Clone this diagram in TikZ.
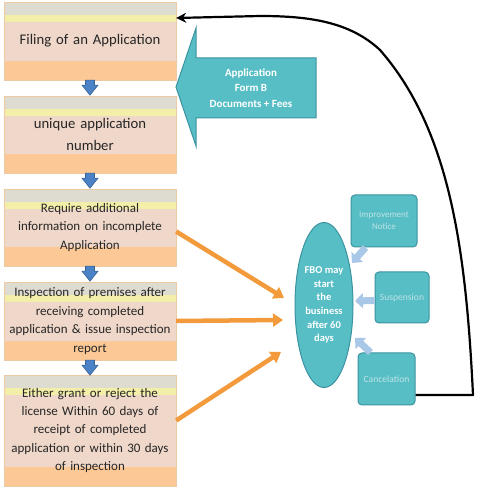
\documentclass[tikz,border=0pt]{standalone}
\usepackage{fontspec}
\setmainfont{Carlito}
\usetikzlibrary{shapes.geometric, arrows.meta}
\definecolor{bandgray}{HTML}{DEDBD0}
\definecolor{bandyellow}{HTML}{F3EFA8}
\definecolor{bandpink}{HTML}{EFD7C9}
\definecolor{bandorange}{HTML}{FBC896}
\definecolor{boxedge}{HTML}{EDC9A4}
\definecolor{flowblue}{HTML}{4B82C6}
\definecolor{tealfill}{HTML}{57BEC6}
\definecolor{tealedge}{HTML}{3C93A0}
\definecolor{paleblue}{HTML}{A9C7E6}
\definecolor{feedorange}{HTML}{F29A3C}
\definecolor{paletext}{HTML}{BFE3E6}

\begin{document}
\begin{tikzpicture}[x=1pt,y=-1pt]

\tikzset{stage/.style = {draw=boxedge, fill=bandpink, minimum width=172pt, text width=166pt, align=center, inner sep=0pt, text=black!85,
  path picture={
    \fill[bandgray] (path picture bounding box.north west) rectangle ([yshift=-13pt]path picture bounding box.north east);
    \fill[bandyellow] ([yshift=-13pt]path picture bounding box.north west) rectangle ([yshift=-20pt]path picture bounding box.north east);
    \fill[bandorange] (path picture bounding box.south west) rectangle ([yshift=19pt]path picture bounding box.south east);}}}
\tikzset{big/.style = {font=\fontsize{14.7}{22}\selectfont}}
\tikzset{small/.style = {font=\fontsize{13}{18.4}\selectfont}}
\tikzset{action/.style = {draw=tealedge, fill=tealfill, line width=1pt, rounded corners=4pt, text=paletext, align=center, inner sep=0pt, font=\fontsize{9.6}{12}\selectfont}}
\tikzset{feed/.style = {feedorange, line width=4.5pt, -{Triangle[length=10pt,width=13pt]}}}
\tikzset{hint/.style = {paleblue, line width=7pt, -{Triangle[length=8pt,width=15pt]}}}

\useasboundingbox (0,0) rectangle (496,494);

%stages
\node[stage, big, minimum height=78pt] (file) at (90,41) {Filing of an Application};
\node[stage, big, minimum height=77pt] (uan) at (90,134.5) {unique application\\number};
\node[stage, small, minimum height=77pt] (req) at (90,227.5) {Require additional\\information on incomplete\\Application};
\node[stage, small, minimum height=78pt] (insp) at (90,321) {Inspection of premises after\\receiving completed\\application \& issue inspection\\report};
\node[stage, small, minimum height=111pt] (grant) at (90,430.5) {Either grant or reject the\\license Within 60 days of\\receipt of completed\\application or within 30 days\\of inspection};

%documents arrow
\draw[tealedge, fill=tealfill, line width=1pt] (176,87) -- (196,28) -- (196,58) -- (316,58) -- (316,118) -- (196,118) -- (196,146) -- cycle;
\node[text=white, align=center, font=\bfseries\fontsize{11}{15.5}\selectfont] (docs) at (251,88) {Application\\Form B\\Documents + Fees};

%outcome
\node[ellipse, draw=tealedge, fill=tealfill, line width=1pt, minimum width=58pt, minimum height=165pt, inner sep=0pt, align=center, text=white, font=\bfseries\fontsize{10.5}{13.6}\selectfont] (fbo) at (324,305) {FBO may\\start\\the\\business\\after 60\\days};
\node[action, minimum width=66pt, minimum height=52pt, font=\fontsize{9}{12}\selectfont] (imp) at (384,221) {Improvement\\Notice};
\node[action, minimum width=54pt, minimum height=51pt] (susp) at (402,297.5) {Suspension};
\node[action, minimum width=57pt, minimum height=52pt] (cancel) at (386.5,379) {Cancelation};

%edges
\foreach \a in {file, uan, req, insp}
  \draw[flowblue!75!black, fill=flowblue, line width=0.6pt] ([xshift=-4.5pt]\a.south) -- ++(0,5) -- ++(-3.5,0) -- ++(8,10) -- ++(8,-10) -- ++(-3.5,0) -- ++(0,-5) -- cycle;

\coordinate (in1) at (284,298);
\coordinate (in2) at (283,320);
\coordinate (in3) at (281,352);
\draw[feed] ([yshift=-4pt]req.east) -- (in1);
\draw[feed] (insp.east) -- (in2);
\draw[feed] ([yshift=10pt]grant.east) -- (in3);

\coordinate (out1) at (352,263);
\coordinate (out2) at (355,301);
\coordinate (out3) at (355,338);
\draw[hint] ([xshift=15pt]imp.south west) -- (out1);
\draw[hint] ([yshift=-3pt]susp.west) -- (out2);
\draw[hint] ([xshift=13pt]cancel.north west) -- (out3);

\coordinate (corner) at (473,395);
\draw[line width=2.2pt, line join=round, -{Stealth[length=10pt,width=10pt]}] ([yshift=-16pt]cancel.east) -- (corner) .. controls (466,250) and (450,130) .. (380,50) .. controls (350,22) and (310,16) .. (260,16) -- ([yshift=23pt]file.east);

\end{tikzpicture}
\end{document}
